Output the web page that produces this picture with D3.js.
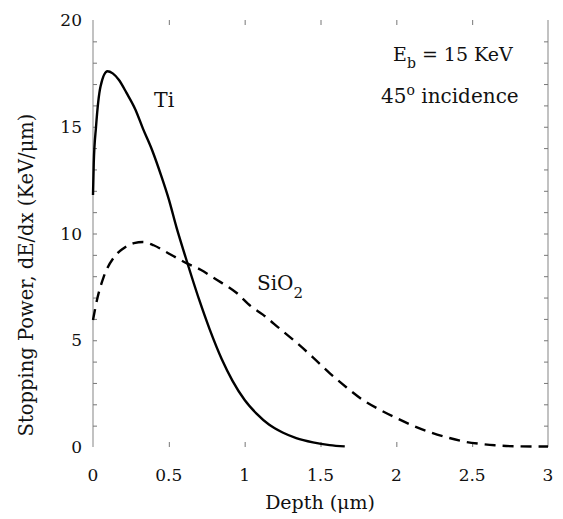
<!DOCTYPE html>
<html>
<head>
<meta charset="utf-8">
<script src="https://cdn.jsdelivr.net/npm/d3@7"></script>
<style>
  body { margin: 0; background: #fff; }
  svg text { font-family: "DejaVu Serif", "Liberation Serif", serif; fill: #111; }
</style>
</head>
<body>
<script>
'use strict';

// Ti curve (solid), depth in um, stopping power in KeV/um
var tiDepth = [0, 0.005, 0.02, 0.05, 0.095, 0.13, 0.17, 0.22, 0.28, 0.33, 0.39, 0.45, 0.5, 0.55, 0.61, 0.7, 0.77, 0.85, 0.92, 1.0, 1.08, 1.16, 1.25, 1.34, 1.45, 1.56, 1.66];
var tiPower = [11.8, 13.3, 15.0, 16.9, 17.6, 17.5, 17.2, 16.6, 15.8, 14.9, 13.9, 12.7, 11.6, 10.3, 8.9, 6.9, 5.5, 4.1, 3.1, 2.2, 1.55, 1.05, 0.68, 0.42, 0.22, 0.09, 0.03];

// SiO2 curve (dashed)
var sioDepth = [0, 0.03, 0.07, 0.14, 0.2, 0.27, 0.33, 0.4, 0.49, 0.62, 0.71, 0.8, 0.95, 1.04, 1.12, 1.23, 1.34, 1.45, 1.56, 1.67, 1.78, 1.89, 2.0, 2.11, 2.22, 2.35, 2.45, 2.55, 2.65, 2.8, 3.0];
var sioPower = [5.95, 7.0, 7.96, 8.9, 9.3, 9.55, 9.6, 9.45, 9.1, 8.6, 8.3, 7.9, 7.2, 6.6, 6.2, 5.55, 4.9, 4.2, 3.46, 2.8, 2.2, 1.75, 1.36, 1.0, 0.7, 0.42, 0.25, 0.15, 0.08, 0.03, 0.02];

var xTicks = [0, 0.5, 1, 1.5, 2, 2.5, 3];
var yTicks = [0, 5, 10, 15, 20];

var width = 563, height = 519;
var margin = {left: 93, right: 15, top: 20, bottom: 72};

var svg = d3.select('body').append('svg')
    .attr('width', width)
    .attr('height', height);

var x = d3.scaleLinear().domain([0, 3]).range([margin.left, width - margin.right]);
var y = d3.scaleLinear().domain([0, 20]).range([height - margin.bottom, margin.top]);

// frame side lines (left and right only, as in the scan)
svg.append('line')
    .attr('x1', x(0)).attr('x2', x(0))
    .attr('y1', y(20)).attr('y2', y(0))
    .attr('stroke', '#999').attr('stroke-width', 1.2);
svg.append('line')
    .attr('x1', x(3)).attr('x2', x(3))
    .attr('y1', y(20)).attr('y2', y(0))
    .attr('stroke', '#999').attr('stroke-width', 1.2);

// inward ticks
var bottomAxis = d3.axisBottom(x).tickValues(xTicks.slice(1, -1)).tickSize(-5).tickFormat('');
var topAxis = d3.axisTop(x).tickValues(xTicks.slice(1, -1)).tickSize(-5).tickFormat('');
var leftAxis = d3.axisLeft(y).tickValues(d3.range(1, 20)).tickSize(-4).tickFormat('');
var rightAxis = d3.axisRight(y).tickValues(d3.range(1, 20)).tickSize(-4).tickFormat('');

function styleAxis(g) {
    g.select('.domain').remove();
    g.selectAll('.tick line').attr('stroke', '#777').attr('stroke-width', 1);
}

svg.append('g').attr('transform', 'translate(0,' + y(0) + ')').call(bottomAxis).call(styleAxis);
svg.append('g').attr('transform', 'translate(0,' + y(20) + ')').call(topAxis).call(styleAxis);
svg.append('g').attr('transform', 'translate(' + x(0) + ',0)').call(leftAxis).call(styleAxis);
svg.append('g').attr('transform', 'translate(' + x(3) + ',0)').call(rightAxis).call(styleAxis);

// tick labels
svg.append('g').selectAll('text.xl')
    .data(xTicks).enter().append('text')
    .attr('class', 'xl')
    .attr('x', function (d) { return x(d); })
    .attr('y', 481)
    .attr('text-anchor', 'middle')
    .attr('font-size', 17)
    .text(function (d) { return d; });

svg.append('g').selectAll('text.yl')
    .data(yTicks).enter().append('text')
    .attr('class', 'yl')
    .attr('x', 82)
    .attr('y', function (d) { return y(d) + 6; })
    .attr('text-anchor', 'end')
    .attr('font-size', 17)
    .text(function (d) { return d; });

// axis titles
svg.append('text')
    .attr('x', 320)
    .attr('y', 509)
    .attr('text-anchor', 'middle')
    .attr('font-size', 19)
    .text('Depth (\u03bcm)');

svg.append('text')
    .attr('transform', 'translate(33,275) rotate(-90)')
    .attr('text-anchor', 'middle')
    .attr('font-size', 19.5)
    .text('Stopping Power, dE/dx (KeV/\u03bcm)');

// curves
var line = d3.line().curve(d3.curveMonotoneX);

svg.append('path')
    .datum(tiDepth.map(function (d, i) { return [x(d), y(tiPower[i])]; }))
    .attr('d', line)
    .attr('fill', 'none')
    .attr('stroke', '#000')
    .attr('stroke-width', 2.4);

svg.append('path')
    .datum(sioDepth.map(function (d, i) { return [x(d), y(sioPower[i])]; }))
    .attr('d', line)
    .attr('fill', 'none')
    .attr('stroke', '#000')
    .attr('stroke-width', 2.4)
    .attr('stroke-dasharray', '11,7');

// curve labels
svg.append('text')
    .attr('x', 154).attr('y', 107)
    .attr('font-size', 20.5)
    .text('Ti');

var sio = svg.append('text')
    .attr('x', 257).attr('y', 290)
    .attr('font-size', 20);
sio.append('tspan').text('SiO');
sio.append('tspan').attr('dy', 8).attr('font-size', 15).text('2');

// annotation
var eb = svg.append('text')
    .attr('x', 393).attr('y', 61)
    .attr('font-size', 19);
eb.append('tspan').text('E');
eb.append('tspan').attr('dy', 7).attr('font-size', 14).text('b');
eb.append('tspan').attr('dy', -7).text(' = 15 KeV');

var inc = svg.append('text')
    .attr('x', 381).attr('y', 103)
    .attr('font-size', 20);
inc.append('tspan').text('45');
inc.append('tspan').attr('dy', -8).attr('font-size', 14).text('o');
inc.append('tspan').attr('dy', 8).text(' incidence');
</script>
</body>
</html>
